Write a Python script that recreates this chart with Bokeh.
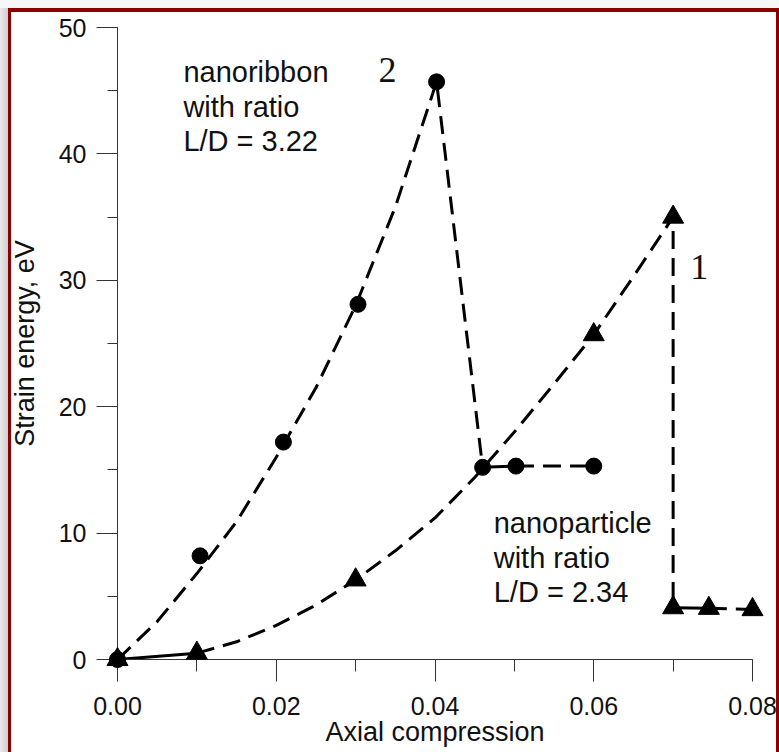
from bokeh.plotting import figure
from bokeh.models import SingleIntervalTicker, Label, PrintfTickFormatter
from bokeh.embed import file_html
from bokeh.resources import INLINE

# ---- data ----
# curve 2: nanoribbon (circles)
ribbon_x = [0.0, 0.0104, 0.0209, 0.0303, 0.0402, 0.0460, 0.0502, 0.0600]
ribbon_y = [0.0, 8.2, 17.2, 28.1, 45.7, 15.2, 15.3, 15.3]
# dashed guide curve through the nanoribbon loading branch and its drop
ribbon_fit_x = [0.0, 0.005, 0.010, 0.015, 0.020, 0.025, 0.030, 0.035, 0.0402, 0.0460]
ribbon_fit_y = [0.0, 3.0, 6.8, 10.9, 16.0, 21.5, 28.0, 35.8, 45.7, 15.2]

# curve 1: nanoparticle (triangles)
particle_x = [0.0, 0.010, 0.030, 0.060, 0.070, 0.070, 0.0745, 0.080]
particle_y = [0.0, 0.5, 6.3, 25.7, 35.0, 4.1, 4.05, 3.95]
# dashed guide curve through the nanoparticle loading branch and its drop
particle_fit_x = [0.010, 0.015, 0.020, 0.025, 0.030, 0.035, 0.040, 0.045,
                  0.050, 0.055, 0.060, 0.065, 0.070, 0.070]
particle_fit_y = [0.5, 1.4, 2.7, 4.3, 6.3, 8.6, 11.2, 14.4,
                  18.0, 21.8, 25.7, 30.3, 35.0, 4.1]

x_label = "Axial compression"
y_label = "Strain energy, eV"
ribbon_text = ["nanoribbon", "with ratio", "L/D = 3.22"]
particle_text = ["nanoparticle", "with ratio", "L/D = 2.34"]

SANS = "Liberation Sans"
SERIF = "Liberation Serif"

p = figure(width=779, height=752, x_range=(0, 0.08), y_range=(0, 50),
           output_backend="svg", toolbar_location=None,
           min_border_left=117, min_border_right=27,
           min_border_top=27, min_border_bottom=93)
# page-like backdrop: grey margin, dark-red frame, white sheet
p.styles = {
    "background": (
        "linear-gradient(#ffffff,#ffffff) 11px 12px / 765px 740px no-repeat, "
        "linear-gradient(#8b0000,#8b0000) 8px 8px / 771px 744px no-repeat, "
        "linear-gradient(to right, #eaeaea, #cdcdcd) 0px 8px / 8px 744px no-repeat, "
        "#f7f7f7"
    )
}
p.background_fill_color = "white"
p.border_fill_alpha = 0
p.outline_line_color = None
p.grid.visible = False

# axes
p.xaxis.ticker = SingleIntervalTicker(interval=0.02, num_minor_ticks=2)
p.yaxis.ticker = SingleIntervalTicker(interval=10, num_minor_ticks=2)
p.xaxis.formatter = PrintfTickFormatter(format="%.2f")
for ax in (p.xaxis, p.yaxis):
    ax.axis_line_color = "#333333"
    ax.major_tick_line_color = "#333333"
    ax.minor_tick_line_color = "#333333"
    ax.major_tick_in = 0
    ax.minor_tick_in = 0
    ax.major_label_text_font = SANS
    ax.major_label_text_font_size = "25px"
    ax.major_label_text_color = "#111111"
    ax.axis_label_text_font = SANS
    ax.axis_label_text_font_size = "27px"
    ax.axis_label_text_font_style = "normal"
    ax.axis_label_text_color = "#111111"
p.xaxis.major_tick_out = 22
p.xaxis.minor_tick_out = 12
p.yaxis.major_tick_out = 21
p.yaxis.minor_tick_out = 10
p.xaxis.major_label_standoff = 15
p.xaxis.axis_label_standoff = -1
p.yaxis.major_label_standoff = 10
p.yaxis.axis_label_standoff = 16
p.xaxis.axis_label = x_label
p.yaxis.axis_label = y_label

DASH = "18 9"
LW = 3

# nanoribbon lines
p.line(ribbon_fit_x, ribbon_fit_y, line_color="black", line_width=LW, line_dash=DASH)
p.line(ribbon_x[5:7], ribbon_y[5:7], line_color="black", line_width=LW)
p.line(ribbon_x[6:8], ribbon_y[6:8], line_color="black", line_width=LW, line_dash=DASH)

# nanoparticle lines
p.line(particle_x[0:2], particle_y[0:2], line_color="black", line_width=LW)
p.line(particle_fit_x, particle_fit_y, line_color="black", line_width=LW, line_dash=DASH)
p.line(particle_x[5:7], particle_y[5:7], line_color="black", line_width=LW)
p.line(particle_x[6:8], particle_y[6:8], line_color="black", line_width=LW, line_dash=DASH)

# markers
p.scatter(ribbon_x, ribbon_y, marker="circle", size=16, fill_color="black",
          line_color="black", level="overlay")
p.scatter(particle_x, particle_y, marker="triangle", size=21, fill_color="black",
          line_color="black", level="overlay")

# annotations
for i, t in enumerate(ribbon_text):
    p.add_layout(Label(x=0.0083, y=46.5 - i * 2.75, text=t, text_font=SANS,
                       text_font_size="29px", text_color="#111111",
                       text_align="left", text_baseline="alphabetic"))
for i, t in enumerate(particle_text):
    p.add_layout(Label(x=0.0474, y=10.77 - i * 2.73, text=t, text_font=SANS,
                       text_font_size="29px", text_color="#111111",
                       text_align="left", text_baseline="alphabetic"))
p.add_layout(Label(x=0.0340, y=46.65, text="2", text_font=SERIF, text_font_size="36px",
                   text_color="#111111", text_align="center", text_baseline="alphabetic"))
p.add_layout(Label(x=0.0733, y=31.05, text="1", text_font=SERIF, text_font_size="36px",
                   text_color="#111111", text_align="center", text_baseline="alphabetic"))

open("out.html", "w").write(file_html(p, INLINE))
